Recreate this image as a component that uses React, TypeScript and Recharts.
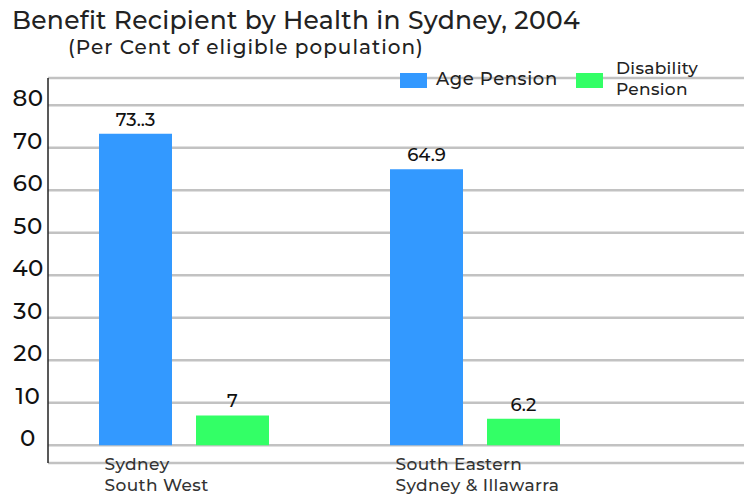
import React from "react";
import { BarChart, Bar, XAxis, YAxis, CartesianGrid, LabelList, Legend } from "recharts";

const categories = [["Sydney", "South West"], ["South Eastern", "Sydney & Illawarra"]];
const agePension = [73.3, 64.9];
const disabilityPension = [7, 6.2];
const ageLabels = ["73..3", "64.9"];
const disabilityLabels = ["7", "6.2"];
const yTicks = [0, 10, 20, 30, 40, 50, 60, 70, 80];

const data = categories.map((c, i) => ({
  name: c.join("\n"),
  age: agePension[i],
  dis: disabilityPension[i],
  ageLabel: ageLabels[i],
  disLabel: disabilityLabels[i],
}));

const FONT = "Montserrat, 'Open Sans', sans-serif";

const YTick = (props: any) => {
  const { y, payload } = props;
  return (
    <text x={28} y={y - 7} textAnchor="middle" dominantBaseline="central" fontSize={23} fontWeight={500} fill="#111" fontFamily={FONT} letterSpacing={0.5}>
      {payload.value}
    </text>
  );
};

const XTick = (props: any) => {
  const { x, y, payload } = props;
  const lines = String(payload.value).split("\n");
  return (
    <g>
      {lines.map((l, i) => (
        <text key={i} x={x - 79} y={y + 1 + i * 21} textAnchor="start" dominantBaseline="central" fontSize={17} fontWeight={500} fill="#333" fontFamily={FONT} letterSpacing={0.4}>
          {l}
        </text>
      ))}
    </g>
  );
};

const LegendContent = () => (
  <div style={{ position: "relative", width: 744, height: 0, fontFamily: FONT, color: "#222" }}>
    <div style={{ position: "absolute", left: 400, top: 73, width: 27, height: 15, background: "#3399ff" }} />
    <div style={{ position: "absolute", left: 436, top: 68, fontSize: 18, fontWeight: 500, lineHeight: "22px", letterSpacing: 0.6, whiteSpace: "nowrap" }}>Age Pension</div>
    <div style={{ position: "absolute", left: 576, top: 73, width: 27, height: 15, background: "#33ff66" }} />
    <div style={{ position: "absolute", left: 616, top: 58, fontSize: 17, fontWeight: 500, lineHeight: "21px", letterSpacing: 0.3, whiteSpace: "nowrap" }}>
      Disability
      <br />
      Pension
    </div>
  </div>
);

export default function App() {
  return (
    <div style={{ position: "absolute", left: 0, top: 0, width: 744, height: 497, background: "#fff", fontFamily: FONT }}>
      <div style={{ position: "absolute", left: 12, top: 5, fontSize: 25, fontWeight: 500, color: "#222", whiteSpace: "nowrap", letterSpacing: 0.3 }}>
        Benefit Recipient by Health in Sydney, 2004
      </div>
      <div style={{ position: "absolute", left: 68, top: 35, fontSize: 20, fontWeight: 500, color: "#222", whiteSpace: "nowrap", letterSpacing: 1 }}>
        (Per Cent of eligible population)
      </div>
      <BarChart
        width={744}
        height={497}
        data={data}
        margin={{ top: 78, right: 0, bottom: 0, left: 0 }}
        barSize={73}
        barGap={24}
      >
        <CartesianGrid vertical={false} stroke="#c2c2c2" strokeWidth={2.5} />
        <XAxis
          dataKey="name"
          height={34}
          axisLine={false}
          tickLine={false}
          tickSize={0}
          tickMargin={0}
          interval={0}
          padding={{ left: -10, right: 124 }}
          tick={<XTick />}
        />
        <YAxis
          width={48}
          domain={[-4.2, 86.4]}
          ticks={yTicks}
          allowDataOverflow
          axisLine={{ stroke: "#222", strokeWidth: 1.5 }}
          tickLine={false}
          tick={<YTick />}
        />
        <Legend content={<LegendContent />} wrapperStyle={{ position: "absolute", left: 0, top: 0, width: 744 }} />
        <Bar dataKey="age" fill="#3399ff" isAnimationActive={false}>
          <LabelList dataKey="ageLabel" position="top" offset={8} fontSize={18} fontWeight={500} fill="#111" fontFamily={FONT} />
        </Bar>
        <Bar dataKey="dis" fill="#33ff66" isAnimationActive={false}>
          <LabelList dataKey="disLabel" position="top" offset={8} fontSize={18} fontWeight={500} fill="#111" fontFamily={FONT} />
        </Bar>
      </BarChart>
    </div>
  );
}
